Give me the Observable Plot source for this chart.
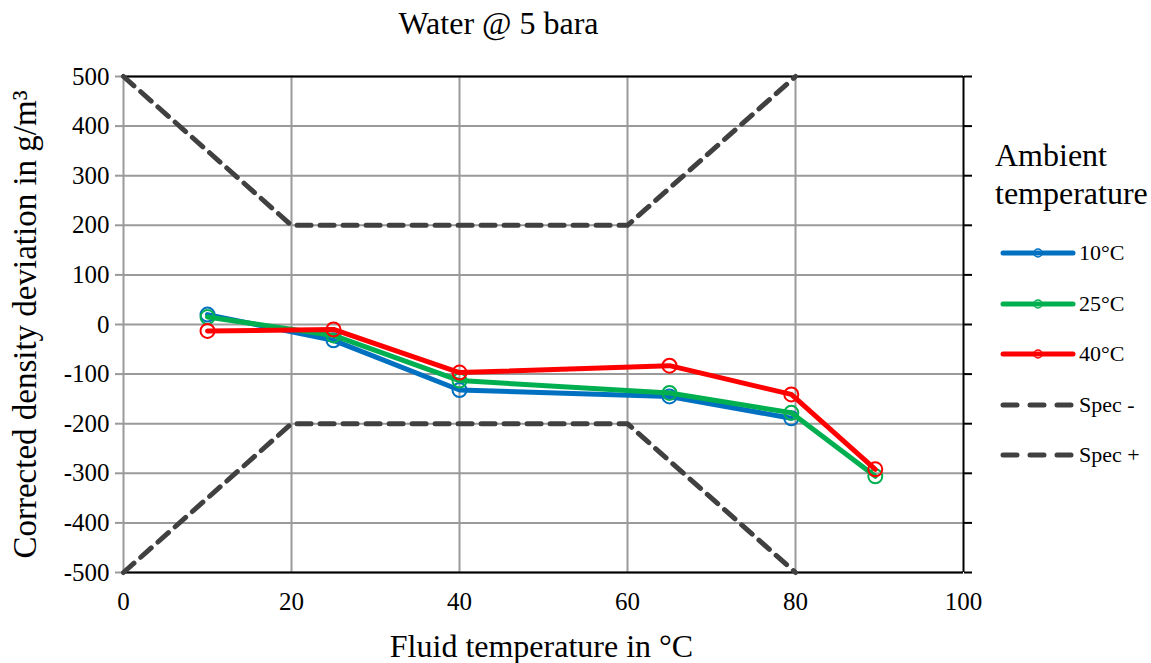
<!DOCTYPE html>
<html>
<head>
<meta charset="utf-8">
<script src="https://cdn.jsdelivr.net/npm/d3@7"></script>
<script src="https://cdn.jsdelivr.net/npm/@observablehq/plot@0.6"></script>
<style>
  body { margin:0; background:#fff; font-family:"Liberation Serif", "Times New Roman", serif; }
  #wrap { position:relative; width:1151px; height:663px; }
  #legend { position:absolute; left:995px; top:136px; font-family:"Liberation Serif", serif; color:#000; }
  #legend .title { font-size:32px; line-height:38px; white-space:nowrap; }
  #legend .item { position:absolute; left:5px; white-space:nowrap; font-size:22px; display:flex; align-items:center; }
  #legend .item span { margin-left:3px; }
</style>
</head>
<body>
<div id="wrap"><div id="legend"></div></div>
<script>
const chartTitle = "Water @ 5 bara";
const xLabel = "Fluid temperature in °C";
const yLabel = "Corrected density deviation in g/m³";
const xTicks = [0, 20, 40, 60, 80, 100];
const yTicks = [-500, -400, -300, -200, -100, 0, 100, 200, 300, 400, 500];

const series10 = [[10, 20], [25, -32], [40, -132], [65, -145], [79.5, -189]];
const series25 = [[10, 15], [25, -22], [40, -113], [65, -138], [79.5, -178], [89.5, -306]];
const series40 = [[10, -13], [25, -10], [40, -97], [65, -83], [79.5, -141], [89.5, -292]];
const specMinus = [[0, -500], [20, -200], [60, -200], [80, -500]];
const specPlus = [[0, 500], [20, 200], [60, 200], [80, 500]];

const seriesNames = ["10°C", "25°C", "40°C"];
const seriesColors = ["#0070C0", "#00B050", "#FF0000"];
const specNames = ["Spec -", "Spec +"];
const specColor = "#404040";

const toRows = arr => arr.map(([x, y]) => ({x, y}));
const allSeries = [series10, series25, series40];

const serif = "Liberation Serif";
const grid = "#9a9a9a";
const marks = [
  Plot.gridY(yTicks, {stroke: grid, strokeOpacity: 1, strokeWidth: 2}),
  Plot.gridX([20, 40, 60, 80], {stroke: grid, strokeOpacity: 1, strokeWidth: 2}),
  Plot.axisY(yTicks, {tickSize: 8, stroke: grid, strokeWidth: 2, tickFormat: () => "", label: null}),
  Plot.axisY(yTicks, {anchor: "right", tickSize: 8, stroke: "#000", strokeWidth: 2, tickFormat: () => "", label: null}),
  Plot.text(yTicks, {x: () => 0, y: d => d, text: d => String(d), textAnchor: "end", dx: -14, fontSize: 25, fontFamily: serif, fontVariant: "normal", fill: "#000"}),
  Plot.text(xTicks, {x: d => d, frameAnchor: "bottom", text: d => String(d), textAnchor: "middle", dy: 37, fontSize: 25, fontFamily: serif, fontVariant: "normal", fill: "#000"}),
  Plot.ruleX([0], {stroke: grid, strokeWidth: 2}),
  Plot.ruleX([100], {stroke: "#000", strokeWidth: 2}),
  Plot.ruleY([500], {stroke: "#000", strokeWidth: 2}),
  Plot.ruleY([-500], {stroke: "#000", strokeWidth: 2}),
  Plot.line(toRows(specMinus), {x: "x", y: "y", stroke: specColor, strokeWidth: 5, strokeDasharray: "14,9", strokeLinecap: "round"}),
  Plot.line(toRows(specPlus), {x: "x", y: "y", stroke: specColor, strokeWidth: 5, strokeDasharray: "14,9", strokeLinecap: "round"})
];
allSeries.forEach((s, i) => {
  marks.push(Plot.line(toRows(s), {x: "x", y: "y", stroke: seriesColors[i], strokeWidth: 5}));
  marks.push(Plot.dot(toRows(s), {x: "x", y: "y", r: 7, stroke: seriesColors[i], strokeWidth: 2, fill: "none"}));
});
marks.push(
  Plot.text([chartTitle], {frameAnchor: "top", textAnchor: "middle", text: d => d, dy: -65, dx: -45, fontSize: 32, fontFamily: serif, fill: "#000"}),
  Plot.text([xLabel], {frameAnchor: "bottom", textAnchor: "middle", text: d => d, dy: 84, dx: -2, fontSize: 32, fontFamily: serif, fill: "#000"}),
  Plot.text([yLabel], {frameAnchor: "left", textAnchor: "middle", text: d => d, dx: -98, rotate: -90, fontSize: 33, fontFamily: serif, fill: "#000"})
);

const chart = Plot.plot({
  width: 1151, height: 663,
  marginLeft: 123, marginRight: 188, marginTop: 76, marginBottom: 91,
  x: {domain: [0, 100], axis: null},
  y: {domain: [-500, 500], axis: null},
  style: {fontFamily: "'Liberation Serif', serif", fontSize: "20px", color: "#000", background: "transparent"},
  marks
});
const wrap = document.getElementById("wrap");
wrap.insertBefore(chart, wrap.firstChild);

// legend
const legend = d3.select("#legend");
legend.append("div").attr("class", "title").html("Ambient<br>temperature");
const items = seriesNames.map((n, i) => ({name: n, color: seriesColors[i], dash: false}))
  .concat(specNames.map(n => ({name: n, color: specColor, dash: true})));
items.forEach((it, i) => {
  const row = legend.append("div").attr("class", "item").style("top", (104 + i * 50.5) + "px");
  const svg = row.append("svg").attr("width", 76).attr("height", 14);
  svg.append("line").attr("x1", 3).attr("x2", 73).attr("y1", 7).attr("y2", 7)
    .attr("stroke", it.color).attr("stroke-width", 5).attr("stroke-linecap", "round")
    .attr("stroke-dasharray", it.dash ? "14,13" : null);
  if (!it.dash) svg.append("circle").attr("cx", 38).attr("cy", 7).attr("r", 4)
    .attr("fill", "none").attr("stroke", it.color).attr("stroke-width", 1.5);
  row.append("span").text(it.name);
});
</script>
</body>
</html>
